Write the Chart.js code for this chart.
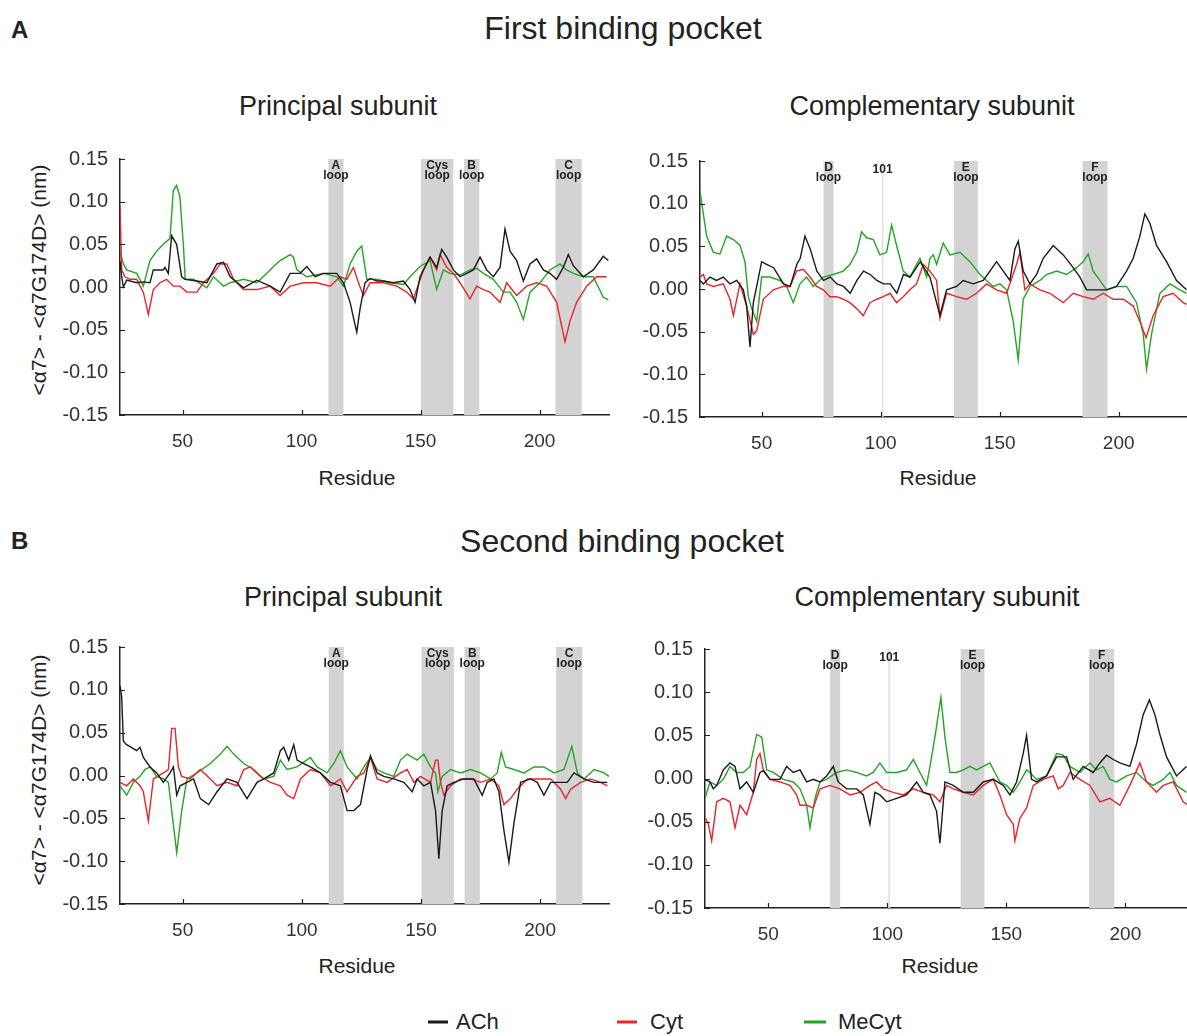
<!DOCTYPE html>
<html><head><meta charset="utf-8">
<script src="https://cdn.jsdelivr.net/npm/chart.js@4.4.1/dist/chart.umd.min.js"></script>
<style>
body{margin:0;width:1187px;height:1036px;background:#fff;overflow:hidden;position:relative;font-family:"Liberation Sans",Arial,sans-serif;color:#222}
.t{position:absolute;white-space:nowrap;transform:translate(-50%,-50%);line-height:1}
.l{position:absolute;white-space:nowrap;transform:translateY(-50%);line-height:1}
.rot{transform:translate(-50%,-50%) rotate(-90deg)}
.dash{position:absolute;height:3px;transform:translateY(-50%)}
canvas{position:absolute}
</style></head><body>

<div class="l" style="left:11px;top:30px;font-size:24px;font-weight:bold">A</div>
<div class="t" style="left:623px;top:28px;font-size:32px">First binding pocket</div>
<div class="t" style="left:338px;top:106px;font-size:27px">Principal subunit</div>
<div class="t" style="left:932px;top:106px;font-size:27px">Complementary subunit</div>
<div class="t rot" style="left:38px;top:280px;font-size:21px">&lt;α7&gt; - &lt;α7G174D&gt; (nm)</div>
<div class="t" style="left:357px;top:477px;font-size:21px">Residue</div>
<div class="t" style="left:938px;top:477px;font-size:21px">Residue</div>

<div class="l" style="left:11px;top:541px;font-size:24px;font-weight:bold">B</div>
<div class="t" style="left:622px;top:541px;font-size:32px">Second binding pocket</div>
<div class="t" style="left:343px;top:597px;font-size:27px">Principal subunit</div>
<div class="t" style="left:937px;top:597px;font-size:27px">Complementary subunit</div>
<div class="t rot" style="left:38px;top:770px;font-size:21px">&lt;α7&gt; - &lt;α7G174D&gt; (nm)</div>
<div class="t" style="left:357px;top:965px;font-size:21px">Residue</div>
<div class="t" style="left:940px;top:965px;font-size:21px">Residue</div>

<div class="dash" style="left:428px;top:1022px;width:20px;background:#1a1a1a"></div>
<div class="l" style="left:456px;top:1022px;font-size:22px">ACh</div>
<div class="dash" style="left:617px;top:1022px;width:20px;background:#e8262b"></div>
<div class="l" style="left:650px;top:1022px;font-size:22px">Cyt</div>
<div class="dash" style="left:804px;top:1022px;width:22px;background:#24a524"></div>
<div class="l" style="left:838px;top:1022px;font-size:22px">MeCyt</div>

<canvas id="cA1" width="567" height="320" style="left:50px;top:135px"></canvas>
<canvas id="cA2" width="557" height="320" style="left:630px;top:137px"></canvas>
<canvas id="cB1" width="567" height="321" style="left:50px;top:623px"></canvas>
<canvas id="cB2" width="552" height="323" style="left:635px;top:625px"></canvas>

<script>
// ---------- data ----------
const seriesNames = ['ACh', 'Cyt', 'MeCyt'];
const xTicks = [50, 100, 150, 200];
const yTicks = [-0.15, -0.10, -0.05, 0, 0.05, 0.10, 0.15];

const principalLoops = ['A|loop', 'Cys|loop', 'B|loop', 'C|loop'];
const principalLoopStart = [111.3, 150.2, 168.3, 206.7];
const principalLoopEnd = [117.6, 163.8, 174.7, 217.7];
const compLoops = ['D|loop', '101', 'E|loop', 'F|loop'];
const compLoopStart = [76.0, 100.4, 130.8, 184.8];
const compLoopEnd = [80.2, 101.2, 140.8, 195.3];

// A: first binding pocket, principal subunit  [residue, value nm]
const aPrinAch = [[23.7,0.030],[24.4,0.012],[25.1,0.000],[26.5,0.008],[30.7,0.005],[33.5,0.006],[36.3,0.005],[37.7,0.020],[41.9,0.020],[42.6,0.023],[44.0,0.016],[45.4,0.060],[47.5,0.050],[49.6,0.012],[51.1,0.009],[56.0,0.007],[60.2,0.005],[64.4,0.027],[67.2,0.029],[70.0,0.012],[75.6,-0.001],[81.2,0.008],[86.8,0.001],[91.0,-0.006],[95.2,0.016],[99.4,0.016],[102.2,0.024],[105.7,0.012],[109.2,0.016],[114.8,0.016],[117.6,0.005],[120.4,-0.018],[121.8,-0.036],[123.2,-0.053],[124.6,-0.025],[126.7,0.005],[128.8,0.010],[131.6,0.007],[134.4,0.007],[138.6,0.005],[142.8,0.007],[145.6,-0.003],[147.7,-0.018],[149.8,0.012],[154.0,0.035],[156.8,0.023],[158.9,0.044],[161.0,0.035],[163.8,0.020],[166.6,0.012],[169.4,0.016],[172.2,0.020],[175.0,0.035],[177.8,0.020],[180.6,0.012],[183.4,0.023],[185.5,0.068],[187.6,0.042],[190.4,0.031],[193.2,0.007],[196.0,0.027],[198.8,0.033],[201.6,0.020],[204.4,0.016],[207.2,0.009],[210.0,0.023],[212.1,0.038],[214.2,0.025],[218.4,0.012],[222.6,0.020],[226.8,0.036],[228.9,0.031]];
const aPrinCyt = [[23.7,0.095],[24.4,0.020],[25.8,0.012],[27.9,0.009],[30.7,0.009],[33.5,-0.006],[35.6,-0.032],[37.7,-0.003],[40.5,0.005],[43.3,0.009],[46.1,0.001],[48.9,0.001],[51.8,-0.006],[56.0,-0.006],[58.8,0.005],[63.0,0.016],[65.8,0.027],[68.6,0.027],[71.4,0.009],[75.6,-0.003],[81.2,-0.003],[86.8,0.001],[91.0,-0.010],[95.2,0.001],[100.8,0.005],[106.4,0.005],[112.0,0.001],[116.2,0.012],[119.0,0.009],[121.8,0.023],[123.9,0.005],[126.0,-0.010],[128.8,0.005],[131.6,0.005],[134.4,0.005],[140.0,0.001],[144.2,-0.006],[147.0,-0.014],[151.2,0.020],[154.0,0.035],[156.8,0.020],[158.2,0.038],[161.0,0.023],[163.8,0.016],[166.6,0.005],[170.8,-0.014],[173.6,0.001],[176.4,-0.003],[179.2,-0.006],[183.4,-0.018],[186.2,0.005],[190.4,-0.010],[194.6,0.001],[198.8,0.005],[203.0,0.001],[207.2,-0.018],[210.7,-0.064],[212.8,-0.040],[215.6,-0.018],[219.8,0.001],[224.0,0.012],[228.2,0.012]];
const aPrinMe = [[23.7,0.042],[25.1,0.027],[26.5,0.020],[30.7,0.016],[33.5,0.001],[36.3,0.031],[39.1,0.042],[41.9,0.050],[44.7,0.057],[46.1,0.113],[47.5,0.119],[48.9,0.105],[50.4,0.046],[51.1,0.009],[54.6,0.009],[60.2,-0.001],[63.0,0.012],[67.2,0.001],[70.0,0.005],[75.6,0.009],[81.2,0.005],[85.4,0.016],[88.2,0.024],[91.0,0.031],[95.2,0.038],[96.6,0.035],[98.0,0.020],[102.2,0.012],[109.2,0.016],[114.8,0.012],[117.6,0.001],[120.4,0.027],[123.2,0.042],[125.3,0.048],[127.4,0.009],[131.6,0.009],[137.2,0.005],[142.8,0.003],[145.6,0.012],[149.8,0.024],[154.0,0.031],[156.8,-0.003],[159.6,0.020],[162.4,0.016],[166.6,0.014],[170.8,0.020],[173.6,0.022],[176.4,0.016],[180.6,0.009],[184.8,-0.006],[187.6,-0.006],[190.4,-0.018],[193.2,-0.038],[196.0,-0.006],[200.2,0.005],[204.4,0.020],[208.6,0.027],[211.4,0.020],[214.2,0.016],[218.4,0.012],[222.6,0.012],[226.8,-0.012],[228.9,-0.015]];

// A: first binding pocket, complementary subunit
const aCompAch = [[24.1,0.010],[25.5,0.006],[28.3,0.014],[31.0,0.010],[33.9,0.014],[36.7,0.006],[39.5,0.010],[42.3,-0.001],[43.7,-0.020],[45.1,-0.068],[46.5,-0.016],[47.9,0.003],[50.0,0.032],[52.1,0.029],[55.0,0.025],[59.2,0.006],[62.0,0.003],[64.8,0.029],[66.2,0.036],[68.2,0.062],[70.4,0.047],[73.2,0.021],[76.0,0.010],[78.8,0.014],[81.6,0.006],[84.4,0.003],[87.2,-0.005],[90.0,0.010],[92.8,0.021],[95.6,0.017],[98.4,0.010],[101.2,0.006],[104.0,0.006],[106.8,-0.005],[109.6,0.017],[112.4,0.014],[116.6,0.032],[120.7,0.014],[124.9,-0.031],[127.7,-0.001],[131.9,0.003],[134.7,0.010],[138.9,0.006],[143.1,0.010],[145.9,0.021],[148.7,0.032],[151.5,0.021],[154.3,0.010],[156.4,0.047],[157.8,0.056],[159.9,0.021],[162.7,0.006],[165.5,0.017],[168.3,0.036],[172.5,0.051],[176.7,0.040],[180.9,0.025],[183.7,0.014],[186.5,-0.001],[190.7,-0.001],[194.9,-0.001],[199.1,0.003],[203.3,0.021],[206.1,0.036],[208.9,0.062],[211.0,0.088],[213.1,0.077],[215.9,0.051],[220.1,0.032],[224.3,0.010],[228.5,-0.001]];
const aCompCyt = [[24.1,0.014],[25.5,0.017],[26.9,0.006],[29.7,0.003],[33.9,0.006],[36.7,-0.012],[38.1,-0.031],[40.9,0.006],[43.7,-0.020],[46.5,-0.053],[47.9,-0.049],[50.7,-0.012],[54.9,-0.001],[59.1,0.003],[61.9,0.003],[64.7,0.021],[67.5,0.023],[70.3,0.014],[73.1,0.003],[75.9,-0.001],[78.7,-0.009],[81.5,-0.009],[84.3,-0.012],[87.1,-0.016],[89.9,-0.023],[92.7,-0.031],[95.5,-0.016],[98.3,-0.012],[101.1,-0.009],[103.9,-0.005],[106.7,-0.016],[109.5,-0.009],[112.3,-0.001],[115.1,0.006],[117.9,0.029],[120.7,0.021],[123.5,0.010],[124.9,-0.034],[127.7,-0.005],[131.9,-0.009],[136.1,-0.012],[140.3,-0.005],[144.5,0.006],[148.7,-0.001],[152.9,-0.005],[157.1,0.029],[158.5,0.043],[160.6,-0.001],[162.7,0.006],[166.9,-0.001],[171.1,-0.005],[176.7,-0.016],[180.9,-0.005],[185.1,-0.009],[189.3,-0.012],[193.5,-0.005],[197.7,-0.012],[201.9,-0.012],[206.1,-0.020],[208.9,-0.038],[211.5,-0.057],[214.5,-0.031],[218.7,-0.009],[222.9,-0.005],[227.1,-0.016],[228.6,-0.018]];
const aCompMe = [[24.1,0.114],[25.5,0.088],[26.9,0.062],[29.7,0.043],[32.5,0.041],[35.3,0.062],[38.1,0.058],[40.9,0.051],[43.0,0.032],[44.4,-0.009],[45.8,-0.023],[47.9,-0.038],[50.0,0.014],[53.5,0.014],[57.7,0.010],[60.5,0.003],[63.3,-0.016],[66.1,0.006],[68.9,0.014],[71.7,0.003],[75.9,0.014],[80.1,0.017],[84.3,0.021],[87.1,0.029],[89.9,0.043],[92.0,0.067],[94.1,0.060],[96.9,0.058],[99.7,0.040],[102.5,0.043],[104.6,0.075],[106.7,0.051],[109.5,0.021],[112.3,0.014],[116.5,0.036],[119.3,0.014],[120.7,0.036],[122.1,0.040],[123.5,0.029],[126.3,0.054],[129.1,0.040],[133.3,0.043],[137.5,0.032],[141.7,0.017],[144.5,0.010],[147.3,0.003],[150.1,0.006],[152.9,-0.001],[155.7,-0.038],[157.8,-0.083],[159.9,-0.012],[162.7,0.003],[166.9,0.010],[169.7,0.017],[173.9,0.021],[178.1,0.017],[182.3,0.025],[185.1,0.032],[187.2,0.041],[189.3,0.021],[192.1,0.010],[194.9,-0.001],[199.1,0.003],[203.3,0.003],[207.5,-0.016],[210.3,-0.053],[211.7,-0.094],[213.8,-0.053],[217.3,-0.005],[221.5,0.006],[225.7,-0.001],[228.5,-0.005]];

// B: second binding pocket, principal subunit
const bPrinAch = [[23.7,0.105],[24.4,0.092],[25.1,0.040],[26.5,0.036],[30.7,0.029],[32.1,0.033],[33.5,0.021],[36.3,0.010],[39.1,0.003],[41.9,-0.008],[44.7,0.003],[46.1,0.010],[47.5,-0.023],[48.9,-0.012],[51.8,-0.008],[54.6,-0.004],[57.4,-0.027],[60.9,-0.034],[64.4,-0.019],[68.6,-0.004],[72.8,-0.008],[77.0,-0.027],[81.2,-0.008],[84.0,-0.004],[88.2,0.003],[91.0,0.029],[92.4,0.033],[94.5,0.018],[96.6,0.036],[98.0,0.018],[100.8,0.014],[103.6,0.010],[107.8,0.003],[112.0,-0.008],[116.2,-0.012],[119.0,-0.041],[121.8,-0.041],[124.6,-0.034],[127.4,0.007],[128.8,0.023],[131.6,0.003],[134.4,-0.001],[138.6,-0.004],[142.8,-0.008],[146.3,-0.019],[148.4,-0.004],[151.2,-0.012],[154.0,-0.008],[156.1,-0.041],[157.5,-0.097],[158.9,-0.041],[161.0,-0.012],[163.8,-0.008],[168.0,-0.004],[172.2,-0.004],[175.7,-0.023],[177.8,-0.008],[180.6,-0.004],[182.7,-0.019],[184.8,-0.064],[186.9,-0.101],[189.0,-0.056],[191.8,-0.008],[196.0,-0.004],[198.8,-0.008],[201.6,-0.023],[204.4,-0.008],[208.6,-0.008],[211.4,-0.008],[214.2,0.003],[218.4,-0.004],[222.6,-0.008],[228.2,-0.008]];
const bPrinCyt = [[23.7,-0.008],[26.5,-0.012],[29.3,-0.004],[32.1,-0.012],[33.5,-0.019],[35.6,-0.053],[37.7,-0.004],[41.9,0.003],[44.0,0.007],[45.4,0.055],[46.8,0.055],[48.2,0.010],[49.6,-0.001],[53.2,-0.004],[57.4,0.007],[61.6,-0.004],[64.4,-0.012],[68.6,-0.008],[72.8,-0.012],[75.6,0.007],[78.4,0.010],[82.6,-0.001],[86.8,-0.008],[91.0,-0.012],[93.8,-0.023],[96.6,-0.027],[99.4,-0.004],[103.6,0.007],[107.8,0.003],[112.0,-0.012],[116.2,-0.004],[119.0,-0.019],[123.2,-0.001],[126.0,0.003],[128.8,0.021],[131.6,-0.004],[135.8,-0.008],[141.4,0.003],[144.2,0.007],[147.0,-0.008],[149.8,-0.001],[154.0,-0.008],[156.1,0.018],[157.1,0.018],[158.2,-0.008],[159.6,-0.023],[162.4,-0.012],[166.6,-0.004],[170.8,-0.004],[175.0,-0.008],[179.2,-0.004],[182.7,-0.012],[184.8,-0.034],[187.6,-0.027],[190.4,-0.016],[194.6,-0.004],[198.8,-0.004],[204.4,-0.004],[208.6,-0.016],[210.7,-0.027],[212.8,-0.016],[217.0,-0.008],[221.2,-0.004],[225.4,-0.008],[228.2,-0.012]];
const bPrinMe = [[23.7,-0.012],[26.5,-0.023],[29.3,-0.008],[32.1,-0.001],[34.2,0.007],[36.3,0.010],[39.1,-0.001],[41.9,-0.004],[44.0,-0.008],[45.4,-0.041],[47.5,-0.090],[49.6,-0.041],[51.8,-0.004],[56.0,0.003],[61.6,0.014],[65.8,0.025],[68.6,0.034],[71.4,0.025],[75.6,0.014],[79.8,0.007],[84.0,-0.004],[88.2,-0.001],[91.0,0.018],[93.8,0.007],[98.0,0.010],[103.6,0.021],[106.4,0.010],[110.6,0.003],[113.4,0.014],[116.2,0.029],[119.0,0.010],[123.2,-0.004],[126.0,0.010],[128.8,0.021],[131.6,0.007],[134.4,0.003],[138.6,-0.001],[141.4,0.018],[144.2,0.025],[148.4,0.018],[151.2,0.025],[154.0,0.010],[156.1,0.003],[157.1,-0.019],[158.9,-0.001],[162.4,0.007],[166.6,0.003],[170.8,0.007],[175.0,0.003],[179.2,-0.004],[182.0,0.003],[183.7,0.027],[185.5,0.010],[189.0,0.007],[193.2,0.003],[197.4,0.010],[201.6,0.010],[205.8,0.003],[210.0,0.007],[213.3,0.034],[215.6,0.003],[218.4,-0.004],[222.6,0.007],[226.8,0.003],[228.9,-0.001]];

// B: second binding pocket, complementary subunit
const bCompAch = [[23.4,-0.001],[25.5,-0.004],[26.9,-0.012],[28.3,-0.008],[31.1,0.010],[33.9,0.018],[36.0,0.014],[38.1,-0.012],[40.9,-0.004],[43.7,-0.016],[46.5,0.007],[47.9,0.009],[50.7,-0.001],[54.9,-0.001],[57.7,0.014],[60.5,0.007],[63.3,0.010],[66.1,-0.004],[68.9,-0.001],[71.7,-0.004],[74.5,0.003],[77.3,0.014],[79.4,-0.004],[82.9,-0.012],[87.1,-0.012],[89.9,-0.019],[92.7,-0.053],[94.8,-0.016],[96.9,-0.019],[99.7,-0.027],[103.9,-0.023],[108.1,-0.019],[112.3,-0.004],[115.1,-0.016],[117.9,-0.019],[120.7,-0.038],[122.1,-0.075],[124.2,-0.004],[127.7,-0.008],[131.9,-0.016],[136.1,-0.016],[140.3,-0.004],[144.5,-0.001],[148.7,-0.008],[151.5,-0.019],[154.3,-0.004],[157.1,0.029],[158.5,0.050],[160.6,-0.001],[162.7,-0.004],[166.9,0.003],[171.1,0.025],[175.3,0.025],[178.1,-0.001],[182.3,0.014],[186.5,0.007],[189.3,0.018],[192.1,0.027],[194.9,0.022],[197.7,0.018],[201.9,0.014],[204.7,0.040],[207.5,0.074],[210.1,0.091],[212.4,0.074],[214.5,0.051],[217.3,0.025],[221.5,0.003],[225.7,0.014]];
const bCompCyt = [[23.4,-0.045],[24.8,-0.053],[26.2,-0.072],[28.3,-0.027],[31.1,-0.023],[33.9,-0.027],[36.0,-0.057],[38.1,-0.031],[40.9,-0.042],[43.7,-0.016],[45.1,0.022],[46.5,0.029],[47.9,0.010],[50.7,-0.001],[54.9,-0.004],[59.1,-0.008],[61.9,-0.019],[63.3,-0.031],[66.1,-0.031],[68.9,-0.034],[71.7,-0.012],[75.9,-0.008],[80.1,-0.012],[84.3,-0.019],[88.5,-0.016],[92.7,-0.008],[95.5,-0.004],[98.3,-0.012],[102.5,-0.016],[106.7,-0.019],[110.9,-0.012],[115.1,-0.016],[119.3,-0.019],[122.1,-0.027],[124.9,-0.008],[127.7,-0.012],[131.9,-0.016],[136.1,-0.019],[140.3,-0.008],[144.5,-0.001],[147.3,-0.019],[150.1,-0.042],[152.9,-0.053],[153.6,-0.072],[155.7,-0.046],[158.5,-0.034],[161.3,-0.008],[165.5,-0.001],[169.7,0.003],[171.8,-0.012],[173.9,-0.008],[176.7,0.007],[180.9,-0.001],[185.1,-0.008],[189.3,-0.027],[193.5,-0.023],[197.7,-0.031],[201.9,-0.008],[206.1,0.018],[208.9,-0.004],[213.1,-0.016],[215.9,-0.008],[220.1,-0.004],[224.3,-0.027],[225.9,-0.030]];
const bCompMe = [[23.4,-0.023],[25.5,-0.004],[28.3,-0.008],[31.1,-0.001],[33.9,0.014],[36.7,0.007],[39.5,0.007],[42.3,0.014],[45.1,0.051],[47.2,0.048],[49.3,0.010],[52.1,0.007],[56.3,-0.001],[60.5,-0.004],[63.3,-0.012],[66.1,-0.031],[67.5,-0.057],[69.6,-0.023],[71.7,-0.004],[74.5,-0.001],[78.7,0.007],[82.9,0.010],[87.1,0.007],[91.3,0.003],[94.1,0.007],[96.9,0.018],[99.7,0.007],[103.9,0.007],[108.1,0.010],[110.9,0.022],[113.7,0.007],[116.5,-0.008],[117.9,0.014],[120.0,0.048],[122.5,0.094],[124.2,0.048],[126.3,0.007],[129.1,0.007],[131.9,0.010],[134.7,0.014],[137.5,0.010],[140.3,0.014],[143.1,0.018],[145.2,0.007],[147.3,-0.004],[150.1,-0.008],[152.9,-0.016],[155.7,-0.004],[158.5,0.010],[159.9,0.007],[162.7,-0.001],[166.9,0.003],[171.1,0.029],[173.9,0.027],[176.7,0.014],[180.9,0.007],[185.1,0.018],[187.9,0.010],[190.7,0.014],[193.5,-0.001],[196.3,-0.004],[200.5,0.003],[204.7,0.007],[208.9,-0.004],[211.7,-0.008],[215.9,-0.001],[218.7,0.007],[221.5,-0.008],[225.7,-0.016]];

// ---------- drawing ----------
const FONT = '"Liberation Sans", Arial, sans-serif';
const COLORS = ['#1a1a1a', '#e8262b', '#24a524'];

const loopPlugin = {
  id: 'loops',
  beforeDatasetsDraw(chart, args, opts) {
    const {ctx, chartArea: a, scales: {x}} = chart;
    ctx.save();
    opts.names.forEach((name, i) => {
      const x0 = x.getPixelForValue(opts.start[i]);
      const x1 = x.getPixelForValue(opts.end[i]);
      const thin = (opts.end[i] - opts.start[i]) < 2;
      ctx.fillStyle = thin ? '#e4e4e4' : '#d3d3d3';
      ctx.fillRect(x0, a.top, x1 - x0, a.bottom - a.top);
      const cx = (x0 + x1) / 2;
      ctx.fillStyle = '#222';
      ctx.font = 'bold 12px ' + FONT;
      ctx.textAlign = 'center';
      ctx.textBaseline = 'middle';
      const lines = name.split('|');
      if (lines.length === 1) {
        ctx.fillText(lines[0], cx, a.top + 9);
      } else {
        ctx.fillText(lines[0], cx, a.top + 7);
        ctx.fillText(lines[1], cx, a.top + 17);
      }
    });
    ctx.restore();
  }
};

const innerTicks = {
  id: 'innerTicks',
  afterDraw(chart) {
    const {ctx, chartArea: a, scales: {x, y}} = chart;
    ctx.save();
    ctx.strokeStyle = '#222';
    ctx.lineWidth = 1.2;
    ctx.beginPath();
    xTicks.forEach(v => { const px = Math.round(x.getPixelForValue(v)) + 0.5; ctx.moveTo(px, a.bottom); ctx.lineTo(px, a.bottom - 5); });
    yTicks.forEach(v => { const py = Math.round(y.getPixelForValue(v)) + 0.5; ctx.moveTo(a.left, py); ctx.lineTo(a.left + 5, py); });
    ctx.stroke();
    ctx.restore();
  }
};

function makeChart(id, series, loops, xmin, xmax, padRight) {
  const datasets = series.map((s, i) => ({
    label: seriesNames[i],
    data: s.map(p => ({x: p[0], y: p[1]})),
    borderColor: COLORS[i],
    borderWidth: 1.4,
    pointRadius: 0,
    tension: 0,
    fill: false
  }));
  new Chart(document.getElementById(id), {
    type: 'line',
    data: {datasets},
    plugins: [loopPlugin, innerTicks],
    options: {
      responsive: false,
      animation: false,
      devicePixelRatio: 1,
      layout: {padding: {top: 12, right: padRight, left: 0, bottom: 0}},
      plugins: {
        legend: {display: false},
        tooltip: {enabled: false},
        loops: {names: loops[0], start: loops[1], end: loops[2]}
      },
      scales: {
        x: {
          type: 'linear', min: xmin, max: xmax,
          afterBuildTicks: s => { s.ticks = xTicks.map(v => ({value: v})); },
          afterFit: s => { s.height = 40; },
          grid: {display: false, drawTicks: false},
          border: {display: true, color: '#222', width: 1.5},
          ticks: {font: {size: 19, family: FONT}, color: '#333', padding: 15, maxRotation: 0, autoSkip: false}
        },
        y: {
          type: 'linear', min: -0.15, max: 0.15,
          afterBuildTicks: s => { s.ticks = yTicks.map(v => ({value: v})); },
          afterFit: s => { s.width = 70; },
          grid: {display: false, drawTicks: false},
          border: {display: true, color: '#222', width: 1.5},
          ticks: {font: {size: 20, family: FONT}, color: '#333', padding: 12, callback: v => Number(v).toFixed(2)}
        }
      }
    }
  });
}

const pLoops = [principalLoops, principalLoopStart, principalLoopEnd];
const cLoops = [compLoops, compLoopStart, compLoopEnd];
makeChart('cA1', [aPrinAch, aPrinCyt, aPrinMe], pLoops, 23.7, 229.2, 8);
makeChart('cA2', [aCompAch, aCompCyt, aCompMe], cLoops, 24.1, 228.7, 0);
makeChart('cB1', [bPrinAch, bPrinCyt, bPrinMe], pLoops, 23.7, 228.9, 8);
makeChart('cB2', [bCompAch, bCompCyt, bCompMe], cLoops, 23.4, 225.9, 0);
</script>
</body></html>
